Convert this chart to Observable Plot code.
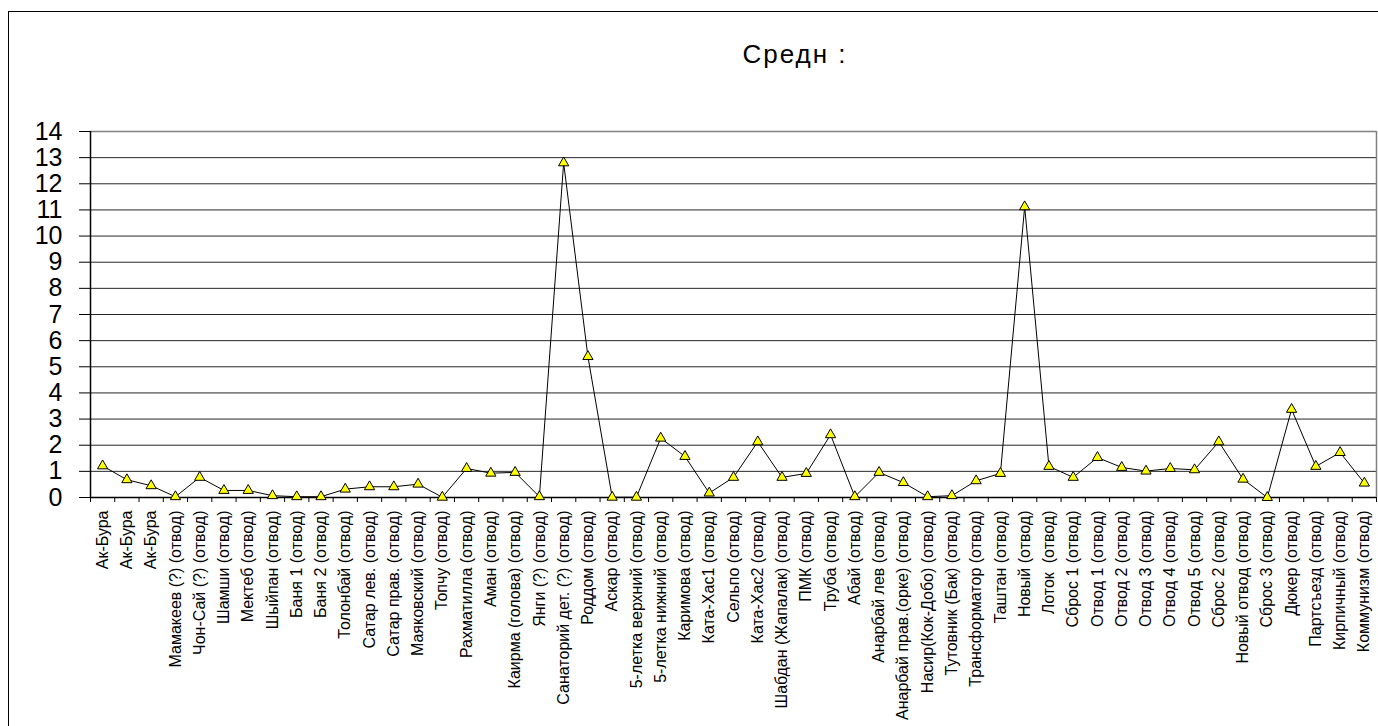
<!DOCTYPE html>
<html>
<head>
<meta charset="utf-8">
<script src="https://cdn.jsdelivr.net/npm/d3@7"></script>
<script src="https://cdn.jsdelivr.net/npm/@observablehq/plot@0.6"></script>
<style>
  html, body { margin: 0; padding: 0; background: #fff; width: 1378px; height: 726px; overflow: hidden; }
  body { position: relative; font-family: "Liberation Sans", Arial, sans-serif; }
  #frame { position: absolute; left: 8px; top: 11px; width: 1380px; height: 730px; border: 1.5px solid #000; box-sizing: border-box; }
  #title { position: absolute; top: 41px; left: 795px; transform: translateX(-50%); font-size: 26px; line-height: 1; letter-spacing: 2px; white-space: pre; color: #000; }
  #chart { position: absolute; left: 0; top: 100px; }
</style>
</head>
<body>
<div id="frame"></div>
<div id="title"></div>
<div id="chart"></div>
<script>
const titleText = "Средн :";
const yTicks = [0,1,2,3,4,5,6,7,8,9,10,11,12,13,14];
const names = [
  "Ак-Бура","Ак-Бура","Ак-Бура","Мамакеев (?) (отвод)","Чон-Сай (?) (отвод)",
  "Шамши (отвод)","Мектеб (отвод)","Шыйпан (отвод)","Баня 1 (отвод)","Баня 2 (отвод)",
  "Толонбай (отвод)","Сатар лев. (отвод)","Сатар прав. (отвод)","Маяковский (отвод)","Топчу (отвод)",
  "Рахматилла (отвод)","Аман (отвод)","Каирма (голова) (отвод)","Янги (?) (отвод)","Санаторий дет. (?) (отвод)",
  "Роддом (отвод)","Аскар (отвод)","5-летка верхний (отвод)","5-летка нижний (отвод)","Каримова (отвод)",
  "Ката-Хас1 (отвод)","Сельпо (отвод)","Ката-Хас2 (отвод)","Шабдан (Жапалак) (отвод)","ПМК (отвод)",
  "Труба (отвод)","Абай (отвод)","Анарбай лев (отвод)","Анарбай прав.(орке) (отвод)","Насир(Кок-Добо) (отвод)",
  "Тутовник (Бак) (отвод)","Трансформатор (отвод)","Таштан (отвод)","Новый (отвод)","Лоток  (отвод)",
  "Сброс 1 (отвод)","Отвод 1 (отвод)","Отвод 2 (отвод)","Отвод 3 (отвод)","Отвод 4 (отвод)",
  "Отвод 5 (отвод)","Сброс 2 (отвод)","Новый отвод (отвод)","Сброс 3 (отвод)","Дюкер (отвод)",
  "Партсъезд (отвод)","Кирпичный (отвод)","Коммунизм (отвод)"
];
const values = [
  1.21, 0.68, 0.45, 0.03, 0.77,
  0.27, 0.27, 0.07, 0.03, 0.03,
  0.32, 0.41, 0.41, 0.51, 0.01,
  1.11, 0.93, 0.96, 0.03, 12.8,
  5.39, 0.01, 0.01, 2.27, 1.57,
  0.17, 0.77, 2.13, 0.77, 0.92,
  2.40, 0.03, 0.96, 0.57, 0.03,
  0.07, 0.64, 0.92, 11.12, 1.19,
  0.77, 1.53, 1.15, 1.01, 1.11,
  1.06, 2.13, 0.70, 0.00, 3.37,
  1.19, 1.72, 0.55
];

document.getElementById("title").textContent = titleText;

const n = names.length;
const data = names.map((name, i) => ({ i: i + 0.5, name, value: values[i] }));
const bounds = d3.range(0, n + 1);
const centers = d3.range(0, n).map(i => i + 0.5);

const chart = Plot.plot({
  width: 1378,
  height: 626,
  marginLeft: 90,
  marginRight: 2,
  marginTop: 31,
  marginBottom: 229,
  style: { fontFamily: "'Liberation Sans', Arial, sans-serif", color: "#000", background: "transparent", overflow: "visible" },
  x: { type: "linear", domain: [0, n] },
  y: { domain: [0, 14] },
  marks: [
    Plot.ruleY(yTicks.filter(t => t > 0 && t < 14), { stroke: "#000", strokeWidth: 1, strokeOpacity: 0.85 }),
    Plot.ruleY([14], { stroke: "#808080", strokeWidth: 1.5 }),
    Plot.ruleX([n], { stroke: "#808080", strokeWidth: 1.5 }),
    Plot.axisY({ ticks: yTicks, tickSize: 11, tickPadding: 17, fontSize: 25, tickFormat: d3.format("d"), label: null, stroke: "#000" }),
    Plot.axisX({ ticks: bounds, tickSize: 5, tickFormat: () => "", label: null }),
    Plot.axisX({ ticks: centers, tickSize: 0, tickPadding: 13, tickRotate: -90, fontSize: 16, tickFormat: d => names[Math.floor(d)], label: null }),
    Plot.ruleX([0], { stroke: "#000", strokeWidth: 1.5 }),
    Plot.ruleY([0], { stroke: "#000", strokeWidth: 1.5 }),
    Plot.line(data, { x: "i", y: "value", stroke: "#000", strokeWidth: 1 }),
    Plot.dot(data, { x: "i", y: "value", symbol: "triangle", r: 3.8, fill: "#ffff00", stroke: "#000", strokeWidth: 1 })
  ]
});
document.getElementById("chart").appendChild(chart);
</script>
</body>
</html>
